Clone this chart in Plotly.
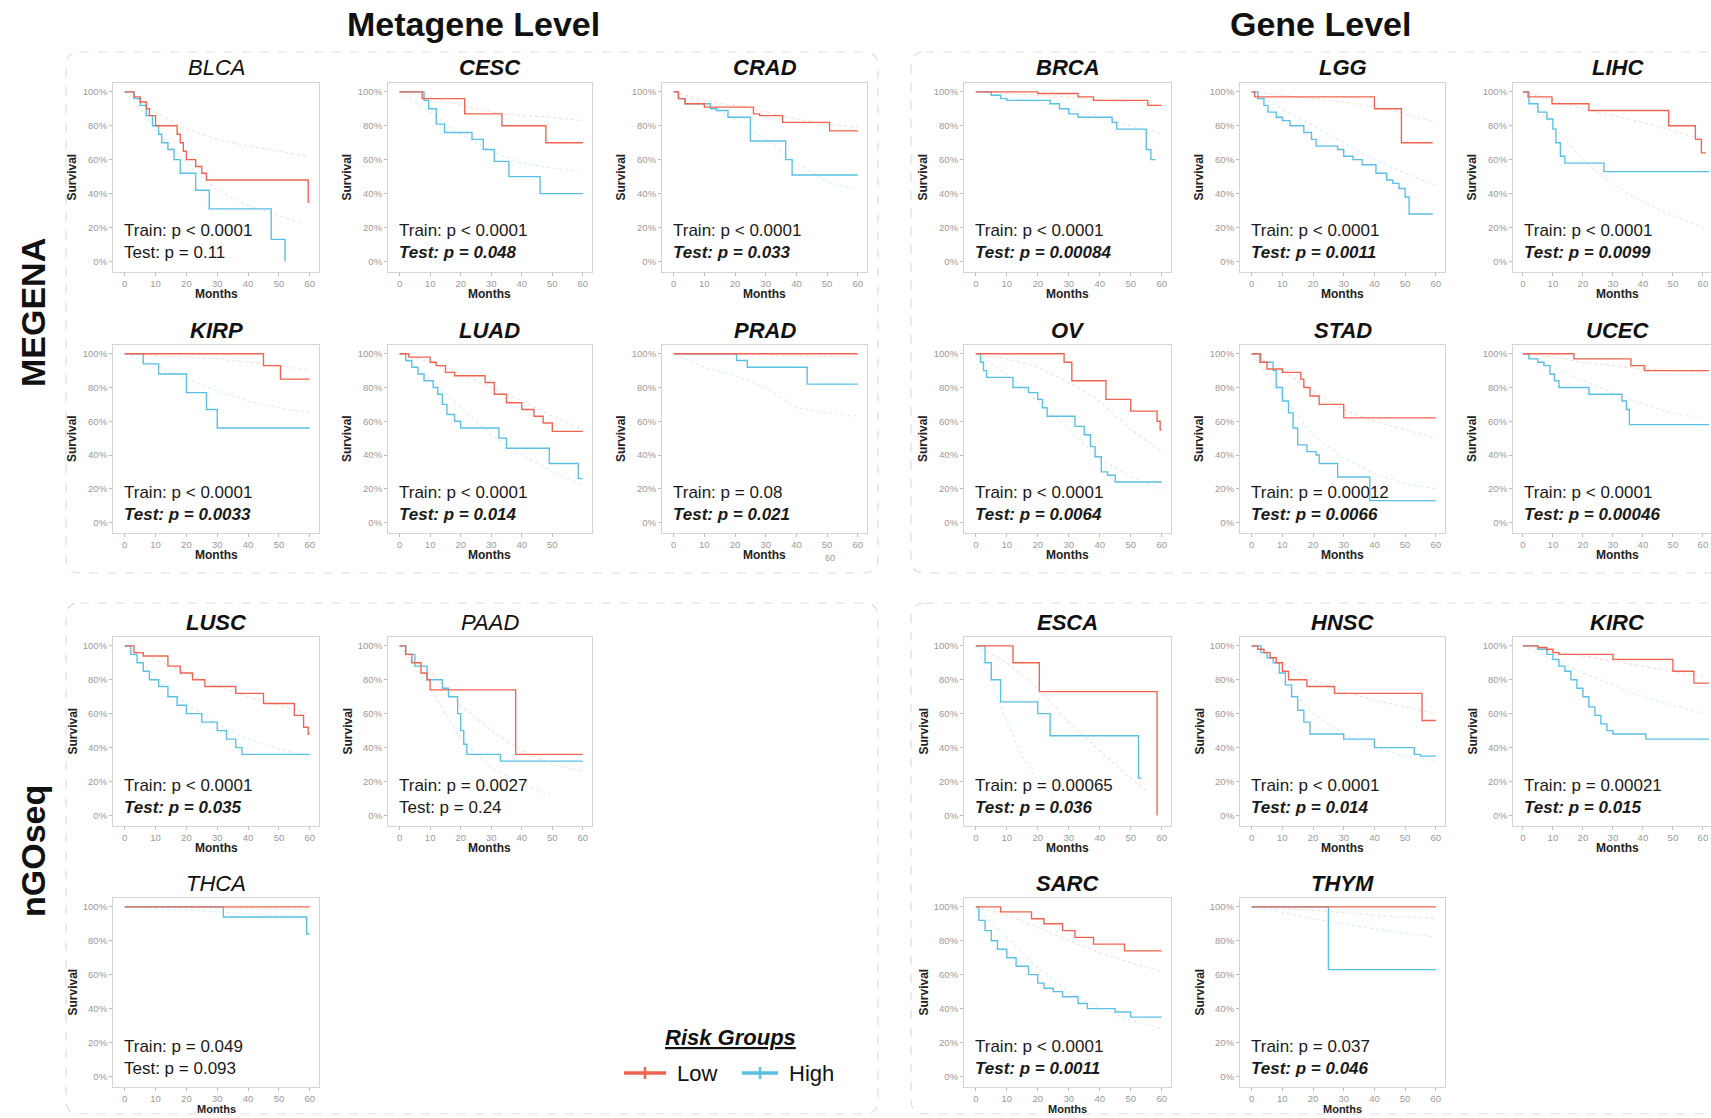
import plotly.graph_objects as go

W, H = 1711, 1118

# ---------------- Kaplan-Meier curves: (month, survival) ----------------
# Test cohort (solid) and training cohort (dotted) per cancer type.
BLCA_LOW = [(0, 1.0), (3, 0.97), (5, 0.94), (7, 0.9), (8, 0.86), (10, 0.8), (17, 0.75), (18, 0.7), (19, 0.65),
            (20, 0.6), (23, 0.56), (25, 0.52), (26.5, 0.48), (59.5, 0.35), (60, 0.35)]
BLCA_HIGH = [(0, 1.0), (3, 0.96), (5, 0.92), (7, 0.86), (9, 0.8), (11, 0.75), (12, 0.7), (14, 0.66), (16, 0.6),
             (18, 0.52), (23, 0.42), (27.4, 0.31), (47.5, 0.13), (52, 0.0)]
BLCA_LOW_TR = [(0, 1.0), (5, 0.95), (10, 0.88), (20, 0.78), (30, 0.72), (40, 0.68), (50, 0.65), (60, 0.62)]
BLCA_HIGH_TR = [(0, 1.0), (5, 0.9), (10, 0.78), (20, 0.58), (30, 0.42), (40, 0.33), (50, 0.27), (58, 0.22)]

CESC_LOW = [(0, 1.0), (7.4, 0.96), (21.3, 0.87), (33.5, 0.8), (47.9, 0.7), (60, 0.7)]
CESC_HIGH = [(0, 1.0), (8, 0.95), (9.5, 0.9), (12, 0.81), (14.7, 0.76), (23.7, 0.72), (27.4, 0.66), (31, 0.59),
             (35.8, 0.5), (46, 0.4), (60, 0.4)]
CESC_LOW_TR = [(0, 1.0), (10, 0.97), (20, 0.92), (30, 0.88), (40, 0.86), (50, 0.85), (60, 0.83)]
CESC_HIGH_TR = [(0, 1.0), (10, 0.88), (20, 0.75), (30, 0.65), (40, 0.58), (50, 0.55), (60, 0.53)]

CRAD_LOW = [(0, 1.0), (1.6, 0.96), (3.7, 0.93), (10, 0.91), (26, 0.87), (28, 0.86), (35.5, 0.82), (50.8, 0.77),
            (60, 0.77)]
CRAD_HIGH = [(0, 1.0), (1.5, 0.96), (3.7, 0.93), (12, 0.9), (14, 0.89), (17.7, 0.85), (25, 0.71), (36.5, 0.6),
             (38.6, 0.51), (60, 0.51)]
CRAD_LOW_TR = [(0, 1.0), (10, 0.95), (20, 0.92), (30, 0.88), (40, 0.84), (50, 0.81), (60, 0.79)]
CRAD_HIGH_TR = [(0, 1.0), (10, 0.93), (20, 0.84), (30, 0.72), (40, 0.58), (50, 0.47), (60, 0.42)]

KIRP_LOW = [(0, 1.0), (45, 0.93), (50.5, 0.85), (60, 0.85)]
KIRP_HIGH = [(0, 1.0), (6, 0.94), (11, 0.88), (20, 0.77), (26.5, 0.67), (30, 0.56), (60, 0.56)]
KIRP_LOW_TR = [(0, 1.0), (10, 0.99), (20, 0.98), (30, 0.97), (40, 0.95), (50, 0.93), (60, 0.9)]
KIRP_HIGH_TR = [(0, 1.0), (10, 0.93), (20, 0.85), (30, 0.78), (40, 0.72), (50, 0.68), (60, 0.65)]

LUAD_LOW = [(0, 1.0), (3, 0.98), (10, 0.95), (12, 0.93), (15, 0.89), (18, 0.87), (28, 0.83), (31, 0.76), (35, 0.71),
            (40, 0.67), (44, 0.63), (47, 0.59), (50, 0.54), (60, 0.54)]
LUAD_HIGH = [(0, 1.0), (2, 0.96), (4, 0.92), (6, 0.88), (8, 0.84), (11, 0.8), (12.5, 0.76), (14, 0.7), (15.5, 0.64),
             (18, 0.6), (20, 0.56), (32.5, 0.5), (35, 0.44), (49, 0.35), (58.5, 0.26), (60, 0.26)]
LUAD_LOW_TR = [(0, 1.0), (10, 0.95), (20, 0.88), (30, 0.8), (40, 0.72), (50, 0.63), (60, 0.55)]
LUAD_HIGH_TR = [(0, 1.0), (10, 0.85), (20, 0.68), (30, 0.52), (40, 0.4), (50, 0.3), (60, 0.22)]

PRAD_LOW = [(0, 1.0), (60, 1.0)]
PRAD_HIGH = [(0, 1.0), (20.5, 0.96), (24, 0.92), (43.5, 0.82), (60, 0.82)]
PRAD_LOW_TR = [(0, 1.0), (20, 0.995), (40, 0.99), (60, 0.98)]
PRAD_HIGH_TR = [(0, 1.0), (10, 0.92), (20, 0.87), (30, 0.8), (40, 0.68), (50, 0.65), (60, 0.63)]

BRCA_LOW = [(0, 1.0), (20, 0.99), (33, 0.97), (38, 0.95), (55.5, 0.92), (60, 0.92)]
BRCA_HIGH = [(0, 1.0), (5, 0.98), (8, 0.96), (10, 0.95), (24, 0.93), (27, 0.9), (30, 0.87), (33, 0.85), (44, 0.82),
             (45.5, 0.78), (55, 0.66), (56.5, 0.6), (58, 0.6)]
BRCA_LOW_TR = [(0, 1.0), (10, 0.99), (20, 0.98), (30, 0.97), (40, 0.95), (50, 0.94), (60, 0.92)]
BRCA_HIGH_TR = [(0, 1.0), (10, 0.97), (20, 0.94), (30, 0.9), (40, 0.86), (50, 0.8), (60, 0.75)]

LGG_LOW = [(0, 1.0), (1, 0.97), (40, 0.9), (48.8, 0.7), (59, 0.7)]
LGG_HIGH = [(0, 1.0), (2, 0.96), (4, 0.92), (5.3, 0.88), (8, 0.85), (10, 0.83), (12.5, 0.8), (17, 0.76),
            (19.5, 0.72), (21, 0.68), (28, 0.66), (30, 0.62), (33, 0.6), (36, 0.57), (40.5, 0.52), (44, 0.48),
            (46, 0.46), (48, 0.43), (50, 0.38), (51.3, 0.28), (59, 0.28)]
LGG_LOW_TR = [(0, 1.0), (10, 0.98), (20, 0.96), (30, 0.94), (40, 0.91), (50, 0.87), (60, 0.82)]
LGG_HIGH_TR = [(0, 1.0), (10, 0.9), (20, 0.8), (30, 0.7), (40, 0.6), (50, 0.52), (60, 0.45)]

LIHC_LOW = [(0, 1.0), (1.7, 0.97), (9.7, 0.93), (22, 0.89), (48.6, 0.8), (57.5, 0.72), (59.5, 0.64), (61, 0.64)]
LIHC_HIGH = [(0, 1.0), (2, 0.93), (5, 0.88), (8, 0.84), (10, 0.78), (11, 0.7), (12.5, 0.62), (14, 0.58),
             (27, 0.53), (62, 0.53)]
LIHC_LOW_TR = [(0, 1.0), (10, 0.95), (20, 0.9), (30, 0.86), (40, 0.82), (50, 0.77), (60, 0.72)]
LIHC_HIGH_TR = [(0, 1.0), (10, 0.8), (20, 0.6), (30, 0.45), (40, 0.35), (50, 0.27), (60, 0.2)]

OV_LOW = [(0, 1.0), (28.5, 0.95), (31, 0.84), (42, 0.73), (50, 0.66), (58.5, 0.6), (59.5, 0.55), (60, 0.55)]
OV_HIGH = [(0, 1.0), (1.5, 0.95), (2.5, 0.9), (3.5, 0.86), (12, 0.8), (17, 0.77), (20, 0.73), (21.5, 0.68),
           (23, 0.63), (32, 0.57), (35, 0.52), (37, 0.45), (38.5, 0.39), (40.5, 0.3), (42.5, 0.28), (45, 0.24),
           (60, 0.24)]
OV_LOW_TR = [(0, 1.0), (10, 0.97), (20, 0.92), (30, 0.83), (40, 0.72), (50, 0.55), (60, 0.42)]
OV_HIGH_TR = [(0, 1.0), (10, 0.88), (20, 0.72), (30, 0.55), (40, 0.38), (50, 0.27), (60, 0.2)]

STAD_LOW = [(0, 1.0), (2.7, 0.95), (5, 0.91), (10, 0.89), (16, 0.85), (17, 0.8), (19, 0.75), (22, 0.7), (30, 0.62),
            (60, 0.62)]
STAD_HIGH = [(0, 1.0), (3, 0.95), (7, 0.9), (8, 0.8), (10, 0.72), (12, 0.65), (13.5, 0.56), (15, 0.46), (18, 0.42),
             (21, 0.4), (22, 0.35), (28, 0.27), (38.5, 0.13), (60, 0.13)]
STAD_LOW_TR = [(0, 1.0), (10, 0.9), (20, 0.78), (30, 0.67), (40, 0.6), (50, 0.55), (60, 0.5)]
STAD_HIGH_TR = [(0, 1.0), (10, 0.75), (20, 0.52), (30, 0.38), (40, 0.29), (50, 0.23), (60, 0.2)]

UCEC_LOW = [(0, 1.0), (17, 0.97), (36, 0.93), (40.5, 0.9), (62, 0.9)]
UCEC_HIGH = [(0, 1.0), (2, 0.97), (5, 0.95), (7, 0.93), (9, 0.88), (10.5, 0.84), (12, 0.8), (22, 0.76), (33, 0.72),
             (34.5, 0.67), (35.5, 0.58), (62, 0.58)]
UCEC_LOW_TR = [(0, 1.0), (10, 0.98), (20, 0.95), (30, 0.93), (40, 0.91), (50, 0.9), (60, 0.89)]
UCEC_HIGH_TR = [(0, 1.0), (10, 0.92), (20, 0.84), (30, 0.77), (40, 0.7), (50, 0.65), (60, 0.62)]

LUSC_LOW = [(0, 1.0), (3, 0.96), (6, 0.94), (14, 0.88), (18, 0.84), (22, 0.8), (26, 0.76), (36, 0.72), (45, 0.66),
            (55, 0.59), (58, 0.52), (59.5, 0.48), (60, 0.48)]
LUSC_HIGH = [(0, 1.0), (2, 0.95), (4, 0.9), (6, 0.85), (8, 0.8), (11, 0.76), (14, 0.7), (17, 0.65), (20, 0.6),
             (25, 0.55), (30, 0.5), (33, 0.45), (36, 0.4), (38, 0.36), (60, 0.36)]
LUSC_LOW_TR = [(0, 1.0), (10, 0.92), (20, 0.84), (30, 0.76), (40, 0.7), (50, 0.65), (60, 0.6)]
LUSC_HIGH_TR = [(0, 1.0), (10, 0.82), (20, 0.66), (30, 0.54), (40, 0.45), (50, 0.39), (60, 0.35)]

PAAD_LOW = [(0, 1.0), (2, 0.95), (4, 0.9), (7, 0.84), (9, 0.8), (10, 0.74), (38, 0.36), (60, 0.36)]
PAAD_HIGH = [(0, 1.0), (2, 0.95), (5, 0.88), (9, 0.8), (14, 0.75), (16, 0.7), (19, 0.6), (20, 0.5), (21, 0.42),
             (22, 0.36), (33, 0.32), (60, 0.32)]
PAAD_LOW_TR = [(0, 1.0), (10, 0.85), (20, 0.65), (30, 0.5), (40, 0.38), (50, 0.3), (60, 0.26)]
PAAD_HIGH_TR = [(0, 1.0), (10, 0.75), (20, 0.45), (30, 0.28), (40, 0.18), (50, 0.12)]

THCA_LOW = [(0, 1.0), (60, 1.0)]
THCA_HIGH = [(0, 1.0), (32, 0.94), (59, 0.84), (60, 0.84)]
THCA_LOW_TR = [(0, 1.0), (20, 0.995), (40, 0.99), (60, 0.985)]
THCA_HIGH_TR = [(0, 1.0), (20, 0.98), (40, 0.96), (60, 0.94)]

ESCA_LOW = [(0, 1.0), (12, 0.9), (20.5, 0.73), (58.5, 0.0)]
ESCA_HIGH = [(0, 1.0), (3, 0.9), (5, 0.8), (8, 0.67), (20, 0.6), (24, 0.47), (52.5, 0.22), (53.5, 0.22)]
ESCA_LOW_TR = [(0, 1.0), (10, 0.9), (20, 0.75), (30, 0.55), (40, 0.38), (50, 0.22), (55, 0.15)]
ESCA_HIGH_TR = [(0, 1.0), (5, 0.8), (10, 0.55), (15, 0.35), (20, 0.2), (25, 0.12)]

HNSC_LOW = [(0, 1.0), (2, 0.98), (4, 0.96), (6, 0.93), (8, 0.9), (10, 0.85), (12, 0.8), (18, 0.76), (27, 0.72),
            (55.5, 0.56), (60, 0.56)]
HNSC_HIGH = [(0, 1.0), (3, 0.96), (5, 0.93), (7, 0.9), (9, 0.84), (11, 0.77), (13, 0.7), (15, 0.62), (17, 0.55),
             (19, 0.48), (30, 0.45), (40, 0.4), (53, 0.36), (55, 0.35), (60, 0.35)]
HNSC_LOW_TR = [(0, 1.0), (10, 0.9), (20, 0.8), (30, 0.73), (40, 0.68), (50, 0.64), (60, 0.6)]
HNSC_HIGH_TR = [(0, 1.0), (10, 0.8), (20, 0.6), (30, 0.48), (40, 0.4), (50, 0.35), (60, 0.32)]

KIRC_LOW = [(0, 1.0), (5, 0.99), (8, 0.98), (10, 0.96), (12, 0.95), (30, 0.92), (50, 0.85), (57, 0.78), (62, 0.78)]
KIRC_HIGH = [(0, 1.0), (5, 0.98), (8, 0.95), (10, 0.92), (12, 0.88), (14, 0.85), (16, 0.8), (18, 0.75), (20, 0.7),
             (22, 0.64), (24, 0.59), (26, 0.54), (28, 0.5), (30, 0.48), (41, 0.45), (62, 0.45)]
KIRC_LOW_TR = [(0, 1.0), (10, 0.97), (20, 0.94), (30, 0.91), (40, 0.88), (50, 0.85), (60, 0.82)]
KIRC_HIGH_TR = [(0, 1.0), (10, 0.92), (20, 0.84), (30, 0.77), (40, 0.7), (50, 0.65), (60, 0.6)]

SARC_LOW = [(0, 1.0), (8, 0.97), (18, 0.93), (22, 0.9), (28, 0.86), (32, 0.82), (38, 0.78), (48, 0.74), (60, 0.74)]
SARC_HIGH = [(0, 1.0), (1, 0.92), (3, 0.86), (5, 0.8), (7, 0.75), (10, 0.7), (13, 0.65), (17, 0.6), (20, 0.55),
             (22, 0.52), (25, 0.5), (28, 0.47), (33, 0.43), (36, 0.4), (45, 0.38), (50, 0.35), (60, 0.35)]
SARC_LOW_TR = [(0, 1.0), (10, 0.95), (20, 0.88), (30, 0.8), (40, 0.73), (50, 0.67), (60, 0.62)]
SARC_HIGH_TR = [(0, 1.0), (10, 0.82), (20, 0.64), (30, 0.5), (40, 0.4), (50, 0.33), (60, 0.28)]

THYM_LOW = [(0, 1.0), (60, 1.0)]
THYM_HIGH = [(0, 1.0), (25, 0.63), (60, 0.63)]
THYM_LOW_TR = [(0, 1.0), (20, 0.98), (40, 0.95), (60, 0.93)]
THYM_HIGH_TR = [(0, 1.0), (20, 0.93), (40, 0.87), (60, 0.82)]

MONTH_TICKS = [0, 10, 20, 30, 40, 50, 60]
MONTH_TICKS_SHORT = [0, 10, 20, 30, 40, 50]
SURV_TICKS = [0, 0.2, 0.4, 0.6, 0.8, 1.0]

# name, grid row, grid col, emphasised, train label, test label, curves, x ticks
PANELS = [
    ("BLCA", 0, 0, False, "Train: p < 0.0001", "Test: p = 0.11", BLCA_LOW, BLCA_HIGH, BLCA_LOW_TR, BLCA_HIGH_TR, MONTH_TICKS),
    ("CESC", 0, 1, True, "Train: p < 0.0001", "Test: p = 0.048", CESC_LOW, CESC_HIGH, CESC_LOW_TR, CESC_HIGH_TR, MONTH_TICKS),
    ("CRAD", 0, 2, True, "Train: p < 0.0001", "Test: p = 0.033", CRAD_LOW, CRAD_HIGH, CRAD_LOW_TR, CRAD_HIGH_TR, MONTH_TICKS),
    ("KIRP", 1, 0, True, "Train: p < 0.0001", "Test: p = 0.0033", KIRP_LOW, KIRP_HIGH, KIRP_LOW_TR, KIRP_HIGH_TR, MONTH_TICKS),
    ("LUAD", 1, 1, True, "Train: p < 0.0001", "Test: p = 0.014", LUAD_LOW, LUAD_HIGH, LUAD_LOW_TR, LUAD_HIGH_TR, MONTH_TICKS_SHORT),
    ("PRAD", 1, 2, True, "Train: p = 0.08", "Test: p = 0.021", PRAD_LOW, PRAD_HIGH, PRAD_LOW_TR, PRAD_HIGH_TR, MONTH_TICKS),
    ("BRCA", 0, 3, True, "Train: p < 0.0001", "Test: p = 0.00084", BRCA_LOW, BRCA_HIGH, BRCA_LOW_TR, BRCA_HIGH_TR, MONTH_TICKS),
    ("LGG", 0, 4, True, "Train: p < 0.0001", "Test: p = 0.0011", LGG_LOW, LGG_HIGH, LGG_LOW_TR, LGG_HIGH_TR, MONTH_TICKS),
    ("LIHC", 0, 5, True, "Train: p < 0.0001", "Test: p = 0.0099", LIHC_LOW, LIHC_HIGH, LIHC_LOW_TR, LIHC_HIGH_TR, MONTH_TICKS),
    ("OV", 1, 3, True, "Train: p < 0.0001", "Test: p = 0.0064", OV_LOW, OV_HIGH, OV_LOW_TR, OV_HIGH_TR, MONTH_TICKS),
    ("STAD", 1, 4, True, "Train: p = 0.00012", "Test: p = 0.0066", STAD_LOW, STAD_HIGH, STAD_LOW_TR, STAD_HIGH_TR, MONTH_TICKS),
    ("UCEC", 1, 5, True, "Train: p < 0.0001", "Test: p = 0.00046", UCEC_LOW, UCEC_HIGH, UCEC_LOW_TR, UCEC_HIGH_TR, MONTH_TICKS),
    ("LUSC", 2, 0, True, "Train: p < 0.0001", "Test: p = 0.035", LUSC_LOW, LUSC_HIGH, LUSC_LOW_TR, LUSC_HIGH_TR, MONTH_TICKS),
    ("PAAD", 2, 1, False, "Train: p = 0.0027", "Test: p = 0.24", PAAD_LOW, PAAD_HIGH, PAAD_LOW_TR, PAAD_HIGH_TR, MONTH_TICKS),
    ("THCA", 3, 0, False, "Train: p = 0.049", "Test: p = 0.093", THCA_LOW, THCA_HIGH, THCA_LOW_TR, THCA_HIGH_TR, MONTH_TICKS),
    ("ESCA", 2, 3, True, "Train: p = 0.00065", "Test: p = 0.036", ESCA_LOW, ESCA_HIGH, ESCA_LOW_TR, ESCA_HIGH_TR, MONTH_TICKS),
    ("HNSC", 2, 4, True, "Train: p < 0.0001", "Test: p = 0.014", HNSC_LOW, HNSC_HIGH, HNSC_LOW_TR, HNSC_HIGH_TR, MONTH_TICKS),
    ("KIRC", 2, 5, True, "Train: p = 0.00021", "Test: p = 0.015", KIRC_LOW, KIRC_HIGH, KIRC_LOW_TR, KIRC_HIGH_TR, MONTH_TICKS),
    ("SARC", 3, 3, True, "Train: p < 0.0001", "Test: p = 0.0011", SARC_LOW, SARC_HIGH, SARC_LOW_TR, SARC_HIGH_TR, MONTH_TICKS),
    ("THYM", 3, 4, True, "Train: p = 0.037", "Test: p = 0.046", THYM_LOW, THYM_HIGH, THYM_LOW_TR, THYM_HIGH_TR, MONTH_TICKS),
]

# ---------------- styling / layout (pixels) ----------------
FONT = "Liberation Sans, Arial, Helvetica, sans-serif"
RED, BLUE = "#EF6451", "#5BBFE2"
RED_FAINT, BLUE_FAINT = "#FBDCD6", "#D4EFF9"
COL_PX = [(113, 319), (388, 592), (662, 867), (964, 1171), (1240, 1445), (1513, 1711)]
ROW_PX = [(83, 272), (345, 533), (637, 826), (898, 1087)]
X_RANGE = [-3.8, 63]
X_RANGE_EDGE = [-3.3, 62.7]
Y_RANGE = [-0.062, 1.052]


def px_x(x):
    return x / W


def px_y(y):
    return 1 - y / H


def pts(curve):
    return [p[0] for p in curve], [p[1] for p in curve]


fig = go.Figure()
annotations = []
layout_axes = {}

for k, (name, r, c, strong, train_txt, test_txt, low, high, low_tr, high_tr, xticks) in enumerate(PANELS, start=1):
    xs = "x" if k == 1 else f"x{k}"
    ys = "y" if k == 1 else f"y{k}"
    x0, x1 = COL_PX[c]
    y0, y1 = ROW_PX[r]

    for curve, color, dash, width, shape in [
        (low_tr, RED_FAINT, "dot", 1.1, "linear"),
        (high_tr, BLUE_FAINT, "dot", 1.1, "linear"),
        (high, BLUE, "solid", 1.35, "hv"),
        (low, RED, "solid", 1.35, "hv"),
    ]:
        tx, sy = pts(curve)
        fig.add_trace(go.Scatter(x=tx, y=sy, mode="lines", xaxis=xs, yaxis=ys,
                                 line=dict(color=color, width=width, dash=dash, shape=shape),
                                 showlegend=False, hoverinfo="skip"))

    axis_common = dict(showgrid=False, zeroline=False, showline=True, mirror=True,
                       linecolor="#d4d4d4", linewidth=1, ticks="outside", ticklen=3,
                       tickcolor="#bdbdbd", tickfont=dict(family=FONT, size=9.5, color="#9a9a9a"))
    layout_axes["xaxis" if k == 1 else f"xaxis{k}"] = dict(
        domain=[px_x(x0), px_x(x1)], anchor=ys,
        range=X_RANGE_EDGE if c == 5 else X_RANGE, tickvals=xticks, **axis_common)
    layout_axes["yaxis" if k == 1 else f"yaxis{k}"] = dict(
        domain=[px_y(y1), px_y(y0)], anchor=xs, range=Y_RANGE,
        tickvals=SURV_TICKS, tickformat=".0%", **axis_common)

    mid_x = (x0 + x1) / 2 if c != 5 else (x0 + 1722) / 2
    title = f"<b><i>{name}</i></b>" if strong else f"<i>{name}</i>"
    annotations.append(dict(text=title, x=px_x(mid_x), y=px_y(y0 - 15), xref="paper", yref="paper",
                            showarrow=False, xanchor="center", yanchor="middle",
                            font=dict(family=FONT, size=22, color="#111")))
    annotations.append(dict(text=train_txt, x=px_x(x0 + 9), y=px_y(y1 - 41), xref="paper", yref="paper",
                            showarrow=False, xanchor="left", yanchor="middle",
                            font=dict(family=FONT, size=17, color="#1a1a1a")))
    test_label = f"<b><i>{test_txt}</i></b>" if strong else test_txt
    annotations.append(dict(text=test_label, x=px_x(x0 + 9), y=px_y(y1 - 19), xref="paper", yref="paper",
                            showarrow=False, xanchor="left", yanchor="middle",
                            font=dict(family=FONT, size=17, color="#1a1a1a")))
    annotations.append(dict(text="<b>Survival</b>", x=px_x(x0 - 41), y=px_y((y0 + y1) / 2), xref="paper",
                            yref="paper", showarrow=False, textangle=-90, xanchor="center", yanchor="middle",
                            font=dict(family=FONT, size=12, color="#222")))
    annotations.append(dict(text="<b>Months</b>", x=px_x(mid_x), y=px_y(y1 + 22), xref="paper",
                            yref="paper", showarrow=False, xanchor="center", yanchor="middle",
                            font=dict(family=FONT, size=12 if r < 3 else 11, color="#222")))

# stray tick label under the PRAD panel
annotations.append(dict(text="60", x=px_x(830), y=px_y(558), xref="paper", yref="paper", showarrow=False,
                        font=dict(family=FONT, size=9, color="#9a9a9a")))

# section headers
for txt, x, y, ang in [("Metagene Level", 473, 24, 0), ("Gene Level", 1320, 24, 0),
                       ("MEGENA", 33, 313, -90), ("nGOseq", 33, 851, -90)]:
    annotations.append(dict(text=f"<b>{txt}</b>", x=px_x(x), y=px_y(y), xref="paper", yref="paper",
                            showarrow=False, textangle=ang, xanchor="center", yanchor="middle",
                            font=dict(family=FONT, size=34, color="#111")))

# legend
annotations.append(dict(text="<b><i><u>Risk Groups</u></i></b>", x=px_x(730), y=px_y(1037), xref="paper",
                        yref="paper", showarrow=False, xanchor="center", yanchor="middle",
                        font=dict(family=FONT, size=22, color="#111")))
annotations.append(dict(text="Low", x=px_x(675), y=px_y(1073), xref="paper", yref="paper", showarrow=False,
                        xanchor="left", yanchor="middle", font=dict(family=FONT, size=22, color="#111")))
annotations.append(dict(text="High", x=px_x(787), y=px_y(1073), xref="paper", yref="paper", showarrow=False,
                        xanchor="left", yanchor="middle", font=dict(family=FONT, size=22, color="#111")))


def rounded_box(x0, y0, x1, y1, rad=14):
    p = lambda x, y: f"{px_x(x):.5f},{px_y(y):.5f}"
    return (f"M {p(x0 + rad, y0)} L {p(x1 - rad, y0)} Q {p(x1, y0)} {p(x1, y0 + rad)} "
            f"L {p(x1, y1 - rad)} Q {p(x1, y1)} {p(x1 - rad, y1)} L {p(x0 + rad, y1)} "
            f"Q {p(x0, y1)} {p(x0, y1 - rad)} L {p(x0, y0 + rad)} Q {p(x0, y0)} {p(x0 + rad, y0)} Z")


shapes = []
for bx in [(66, 52, 878, 573), (66, 603, 878, 1114), (911, 52, 1730, 573), (911, 603, 1730, 1114)]:
    shapes.append(dict(type="path", path=rounded_box(*bx), xref="paper", yref="paper",
                       line=dict(color="#dddddd", width=1.2, dash="dash"), layer="below"))

for (lx0, lx1, col) in [(624, 666, RED), (742, 778, BLUE)]:
    shapes.append(dict(type="line", xref="paper", yref="paper", x0=px_x(lx0), x1=px_x(lx1),
                       y0=px_y(1073), y1=px_y(1073), line=dict(color=col, width=3.5)))
    mid = (lx0 + lx1) / 2
    shapes.append(dict(type="line", xref="paper", yref="paper", x0=px_x(mid), x1=px_x(mid),
                       y0=px_y(1067), y1=px_y(1079), line=dict(color=col, width=2.5)))

fig.update_layout(
    width=W, height=H, margin=dict(l=0, r=0, t=0, b=0),
    paper_bgcolor="white", plot_bgcolor="white",
    annotations=annotations, shapes=shapes, showlegend=False,
    **layout_axes,
)

fig.write_html("out.html")
